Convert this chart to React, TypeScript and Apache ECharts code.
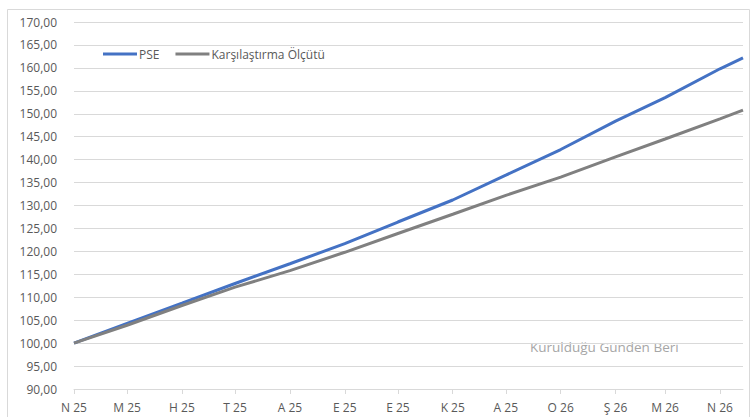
import React, { useEffect, useRef } from "react";
import * as echarts from "echarts";

// Data (month starts + last day)
const pointDates = [
  "2025-04-01", "2025-05-01", "2025-06-01", "2025-07-01", "2025-08-01",
  "2025-09-01", "2025-10-01", "2025-11-01", "2025-12-01", "2026-01-01",
  "2026-02-01", "2026-03-01", "2026-04-01", "2026-04-14",
];
const pseValues = [100, 104.3, 108.7, 113.0, 117.3, 121.7, 126.4, 131.2, 136.6, 142.2, 148.4, 153.5, 159.8, 162.2];
const benchmarkValues = [100, 103.9, 108.2, 112.2, 115.8, 119.8, 123.9, 128.1, 132.2, 136.2, 140.6, 144.5, 148.9, 150.8];

// Turkish month initials (Ocak..Aralık)
const monthInitials = ["O", "Ş", "M", "N", "M", "H", "T", "A", "E", "E", "K", "A"];
const seriesNames = ["PSE", "Karşılaştırma Ölçütü"];
const startDate = "2025-04-01";
const endDate = "2026-04-14";
const yMin = 90;
const yMax = 170;
const yStep = 5;

function buildDays(): string[] {
  const out: string[] = [];
  const [sy, sm, sd] = startDate.split("-").map(Number);
  const [ey, em, ed] = endDate.split("-").map(Number);
  let t = Date.UTC(sy, sm - 1, sd);
  const end = Date.UTC(ey, em - 1, ed);
  while (t <= end) {
    out.push(new Date(t).toISOString().slice(0, 10));
    t += 86400000;
  }
  return out;
}

function sparse(days: string[], values: number[]): (number | null)[] {
  const map: Record<string, number> = {};
  pointDates.forEach((d, i) => (map[d] = values[i]));
  return days.map((d) => (d in map ? map[d] : null));
}

export default function App() {
  const ref = useRef<HTMLDivElement>(null);
  useEffect(() => {
    if (!ref.current) return;
    const chart = echarts.init(ref.current, undefined, { renderer: "svg" });
    const days = buildDays();
    const isMonthStart = (_i: number, v: string) => v.slice(8, 10) === "01";
    const font = "'Open Sans', sans-serif";
    chart.setOption({
      animation: false,
      backgroundColor: "#ffffff",
      grid: { left: 74, right: 9, top: 22, bottom: 28, containLabel: false },
      legend: {
        left: 98,
        top: 43,
        itemGap: 16,
        itemWidth: 34,
        itemHeight: 3,
        icon: "rect",
        textStyle: { color: "#595959", fontSize: 12, fontFamily: font, padding: [0, 0, 0, -3] },
        data: seriesNames,
      },
      xAxis: {
        type: "category",
        boundaryGap: false,
        data: days,
        axisLine: { lineStyle: { color: "#d9d9d9", width: 1 } },
        axisTick: { show: true, interval: isMonthStart, length: 5, lineStyle: { color: "#d9d9d9" } },
        axisLabel: {
          interval: isMonthStart,
          margin: 12,
          color: "#595959",
          fontSize: 12,
          fontFamily: font,
          formatter: (v: string) => {
            const m = Number(v.slice(5, 7)) - 1;
            return monthInitials[m] + " " + v.slice(2, 4);
          },
        },
        splitLine: { show: false },
      },
      yAxis: {
        type: "value",
        min: yMin,
        max: yMax,
        interval: yStep,
        axisLine: { show: false },
        axisTick: { show: false },
        axisLabel: {
          margin: 17,
          color: "#595959",
          fontSize: 12,
          fontFamily: font,
          formatter: (v: number) => v.toFixed(2).replace(".", ","),
        },
        splitLine: { lineStyle: { color: "#d9d9d9", width: 1 } },
      },
      series: [
        {
          name: seriesNames[0],
          type: "line",
          data: sparse(days, pseValues),
          connectNulls: true,
          showSymbol: false,
          symbol: "none",
          color: "#4472c4",
          lineStyle: { color: "#4472c4", width: 3 },
        },
        {
          name: seriesNames[1],
          type: "line",
          data: sparse(days, benchmarkValues),
          connectNulls: true,
          showSymbol: false,
          symbol: "none",
          color: "#808080",
          lineStyle: { color: "#808080", width: 3 },
        },
      ],
      graphic: [
        {
          type: "rect",
          shape: { x: 7.5, y: 9.5, width: 742, height: 412 },
          style: { fill: "none", stroke: "#d9d9d9", lineWidth: 1 },
          silent: true,
        },
        {
          type: "text",
          x: 530,
          y: 340,
          style: {
            text: "Kurulduğu Günden Beri",
            fill: "#a6a6a6",
            font: "13.5px 'Open Sans', sans-serif",
          },
          silent: true,
        },
      ],
    });
    return () => chart.dispose();
  }, []);
  return (
    <div
      ref={ref}
      style={{ position: "fixed", left: 0, top: 0, width: 752, height: 417 }}
    />
  );
}
